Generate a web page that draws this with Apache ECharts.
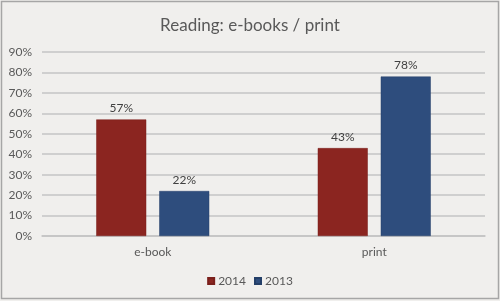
<!DOCTYPE html>
<html><head><meta charset="utf-8">
<script src="https://cdn.jsdelivr.net/npm/echarts@6/dist/echarts.min.js"></script>
<style>html,body{margin:0;padding:0;background:#f0efed}#c{width:500px;height:301px}</style>
</head><body><div id="c"></div>
<script>
const categories = ['e-book', 'print'];
const series2014 = [57, 43];
const series2013 = [22, 78];
const seriesNames = ['2014', '2013'];
const titleText = 'Reading: e-books / print';

const font = 'Lato, "Open Sans", sans-serif';
const chart = echarts.init(document.getElementById('c'));
const labelOpt = {show: true, position: 'top', distance: 5, formatter: '{c}%', color: '#404040', fontSize: 12, fontFamily: font};
chart.setOption({
  backgroundColor: '#f0efed',
  animation: false,
  title: {text: titleText, left: 'center', top: 12, textStyle: {fontFamily: font, fontWeight: 'normal', fontSize: 17, color: '#595959'}},
  graphic: [{type: 'rect', shape: {x: 1.5, y: 1.5, width: 497, height: 297}, style: {fill: 'none', stroke: '#a6a6a6', lineWidth: 1.5}, silent: true}],
  legend: {bottom: 9, left: 'center', itemWidth: 6, itemHeight: 6, itemGap: 8, icon: 'rect',
    textStyle: {fontFamily: font, fontSize: 12, color: '#595959', padding: [0,0,0,-1]}, data: seriesNames},
  grid: {left: 42, right: 15, top: 52, bottom: 65},
  xAxis: {type: 'category', data: categories, axisTick: {show: false},
    axisLine: {lineStyle: {color: '#c4c4c4', width: 1.5}},
    axisLabel: {fontFamily: font, fontSize: 12, color: '#595959', margin: 10}},
  yAxis: {type: 'value', min: 0, max: 90, interval: 10,
    axisLabel: {formatter: '{value}%', fontFamily: font, fontSize: 12, color: '#595959', margin: 10},
    axisLine: {show: false}, axisTick: {show: false},
    splitLine: {lineStyle: {color: '#c4c4c4', width: 1.5}}},
  series: [
    {name: seriesNames[0], type: 'bar', data: series2014, barWidth: 50, barGap: '26%',
     itemStyle: {color: '#8b2520', borderColor: '#7a1f1b', borderWidth: 0.5}, label: labelOpt},
    {name: seriesNames[1], type: 'bar', data: series2013, barWidth: 50,
     itemStyle: {color: '#2e4d7d', borderColor: '#243f68', borderWidth: 0.5}, label: labelOpt}
  ]
});
</script></body></html>
